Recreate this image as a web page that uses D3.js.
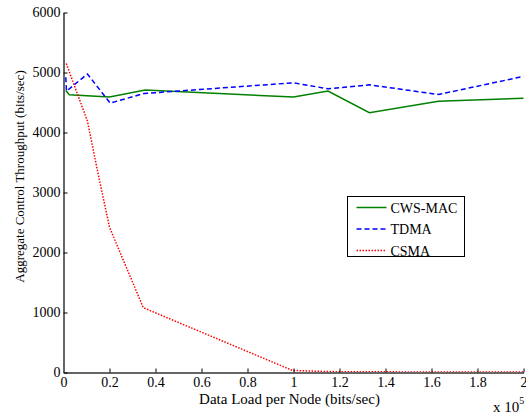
<!DOCTYPE html>
<html>
<head>
<meta charset="utf-8">
<script src="https://cdn.jsdelivr.net/npm/d3@7"></script>
<style>
  html, body { margin: 0; padding: 0; background: #fff; }
  svg { display: block; font-family: "Liberation Serif", "Times New Roman", serif; }
</style>
</head>
<body>
<svg id="chart" width="526" height="416"></svg>
<script>
// Data load per node (x 10^5 bits/sec) and aggregate control throughput (bits/sec)
const cwsLoad   = [0.01, 0.025, 0.2, 0.355, 1.0, 1.15, 1.33, 1.63, 2.0];
const cwsThr    = [4700, 4630, 4590, 4710, 4590, 4690, 4330, 4520, 4570];

const tdmaLoad  = [0.01, 0.013, 0.104, 0.203, 0.35, 1.0, 1.15, 1.33, 1.63, 2.0];
const tdmaThr   = [4920, 4690, 4975, 4490, 4650, 4828, 4728, 4795, 4633, 4935];

const csmaLoad  = [0.012, 0.104, 0.15, 0.2, 0.347, 0.995, 1.15, 1.33, 1.63, 2.0];
const csmaThr   = [5150, 4190, 3320, 2420, 1080, 35, 15, 12, 8, 8];

const xTicks = [0, 0.2, 0.4, 0.6, 0.8, 1, 1.2, 1.4, 1.6, 1.8, 2];
const yTicks = [0, 1000, 2000, 3000, 4000, 5000, 6000];

const seriesNames = ["CWS-MAC", "TDMA", "CSMA"];

const svg = d3.select("#chart");

const x = d3.scaleLinear().domain([0, 2]).range([63.5, 523.5]);
const y = d3.scaleLinear().domain([0, 6000]).range([372.5, 12.5]);

const series = [
  { name: seriesNames[0], load: cwsLoad,  thr: cwsThr,  color: "#008000", dash: null,      width: 1.5 },
  { name: seriesNames[1], load: tdmaLoad, thr: tdmaThr, color: "#0000ff", dash: "5,3",     width: 1.5 },
  { name: seriesNames[2], load: csmaLoad, thr: csmaThr, color: "#ff0000", dash: "1.5,1.5", width: 1.5 }
];

const line = d3.line().x(d => x(d[0])).y(d => y(d[1]));

// Series lines
series.forEach(s => {
  svg.append("path")
    .datum(s.load.map((v, i) => [v, s.thr[i]]))
    .attr("fill", "none")
    .attr("stroke", s.color)
    .attr("stroke-width", s.width)
    .attr("stroke-dasharray", s.dash)
    .attr("d", line);
});

// Axes: ticks point inward, labels in a Times-like serif
const xAxis = d3.axisBottom(x).tickValues(xTicks).tickSizeInner(-4).tickSizeOuter(0)
  .tickPadding(5).tickFormat(d => d3.format("")(+d.toFixed(1)));
const yAxis = d3.axisLeft(y).tickValues(yTicks).tickSizeInner(-4).tickSizeOuter(0)
  .tickPadding(3).tickFormat(d3.format("d"));

const gx = svg.append("g").attr("transform", `translate(0,${y(0)})`).call(xAxis);
const gy = svg.append("g").attr("transform", `translate(${x(0)},0)`).call(yAxis);

[gx, gy].forEach(g => {
  g.select(".domain").attr("stroke", "#666").attr("stroke-width", 2);
  g.selectAll(".tick line").attr("stroke", "#000").attr("stroke-width", 1);
  g.selectAll(".tick text")
    .attr("fill", "#000")
    .style("font-family", "'Liberation Serif', 'Times New Roman', serif")
    .style("font-size", "14px");
});
gx.selectAll(".tick text").attr("dy", "0.71em");

// Axis titles
svg.append("text")
  .attr("x", 289.5).attr("y", 404)
  .attr("text-anchor", "middle")
  .style("font-size", "15px")
  .text("Data Load per Node (bits/sec)");

svg.append("text")
  .attr("transform", "translate(24,176.5) rotate(-90)")
  .attr("text-anchor", "middle")
  .style("font-size", "13px")
  .text("Aggregate Control Throughput (bits/sec)");

// Exponent of the x scale
const expo = svg.append("text").attr("x", 493).attr("y", 412).style("font-size", "15px");
expo.append("tspan").text("x 10");
expo.append("tspan").attr("dy", -8).style("font-size", "10px").text("5");

// Legend
const lg = svg.append("g").attr("transform", "translate(347.5,196.5)");
lg.append("rect")
  .attr("width", 117).attr("height", 60)
  .attr("fill", "#fff").attr("stroke", "#000").attr("stroke-width", 1);
series.forEach((s, i) => {
  const yy = 11 + i * 21.5;
  lg.append("line")
    .attr("x1", 9).attr("x2", 39).attr("y1", yy).attr("y2", yy)
    .attr("stroke", s.color).attr("stroke-width", s.width)
    .attr("stroke-dasharray", s.dash);
  lg.append("text")
    .attr("x", 43).attr("y", yy + 5)
    .style("font-size", "14px")
    .text(s.name);
});
</script>
</body>
</html>
